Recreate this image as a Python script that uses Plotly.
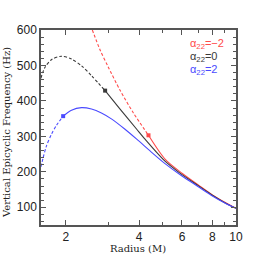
import plotly.graph_objects as go

# alpha22 = 0 (black)
r_blk_dash = [1.58, 1.64, 1.75, 1.92, 2.11, 2.32, 2.55, 2.90]
v_blk_dash = [464, 494, 517, 526, 518, 499, 471, 429]
r_blk_sol = [2.90, 3.34, 3.91, 4.23, 5.11, 6.0, 7.0, 8.0, 9.0, 10.0]
v_blk_sol = [429, 377, 320, 292, 230, 192, 161, 134, 113, 97]

# alpha22 = -2 (red)
r_red_dash = [2.57, 2.76, 2.98, 3.34, 3.79, 4.37]
v_red_dash = [600, 545, 497, 430, 366, 303]
r_red_sol = [4.37, 5.11, 6.0, 7.0, 8.0, 9.0, 10.0]
v_red_sol = [303, 236, 196, 163, 135, 114, 97]

# alpha22 = 2 (blue)
r_blu_dash = [1.58, 1.614, 1.665, 1.746, 1.83, 1.95]
v_blu_dash = [214, 240, 273, 306, 331, 357]
r_blu_sol = [1.95, 2.11, 2.32, 2.55, 2.80, 3.10, 3.50, 3.91, 4.50, 5.11, 6.0, 7.0, 8.0, 9.0, 10.0]
v_blu_sol = [357, 374, 381, 377, 366, 348, 320, 292, 255, 223, 188, 158, 132, 112, 97]

# transition markers
mark_r = [2.90, 4.37, 1.95]
mark_v = [429, 303, 357]

C_BLK = "#3a3a3a"
C_RED = "#ff4a4a"
C_BLU = "#4a4aff"

x_ticks = [2, 4, 6, 8, 10]
x_minor = [3, 5, 7, 9]
y_ticks = [100, 200, 300, 400, 500, 600]

legend_labels = ["α<sub>22</sub>=−2", "α<sub>22</sub>=0", "α<sub>22</sub>=2"]
legend_colors = [C_RED, C_BLK, C_BLU]

fig = go.Figure()

def add(r, v, color, dash):
    fig.add_trace(go.Scatter(x=r, y=v, mode="lines",
                             line=dict(color=color, width=1.1, dash=dash, shape="spline", smoothing=0.8),
                             showlegend=False, hoverinfo="skip"))

add(r_blk_dash, v_blk_dash, C_BLK, "3px,2px")
add(r_red_dash, v_red_dash, C_RED, "3px,2px")
add(r_blu_dash, v_blu_dash, C_BLU, "3px,2px")
add(r_red_sol, v_red_sol, C_RED, "solid")
add(r_blk_sol, v_blk_sol, C_BLK, "solid")
add(r_blu_sol, v_blu_sol, C_BLU, "solid")

fig.add_trace(go.Scatter(x=mark_r, y=mark_v, mode="markers",
                         marker=dict(symbol="square", size=4, color=[C_BLK, C_RED, C_BLU]),
                         showlegend=False, hoverinfo="skip"))

axis_common = dict(showline=True, linecolor="#555555", linewidth=1.5, mirror="allticks",
                   ticks="inside", ticklen=5, tickwidth=1, tickcolor="#555555",
                   showgrid=False, zeroline=False, automargin=False,
                   tickfont=dict(family="Liberation Sans, Arial, sans-serif", size=12, color="#222222"))

fig.update_xaxes(type="log", range=[0.199, 1.0], tickmode="array", tickvals=x_ticks,
                 ticktext=[str(t) for t in x_ticks],
                 minor=dict(tickmode="array", tickvals=x_minor, ticks="inside", ticklen=3, tickcolor="#555555"),
                 **axis_common)
fig.update_yaxes(range=[50, 600], tickmode="array", tickvals=y_ticks,
                 minor=dict(dtick=20, tick0=0, ticks="inside", ticklen=3, tickcolor="#555555"),
                 **axis_common)

annotations = []
ys = [0.928, 0.862, 0.795]
for lab, col, yy in zip(legend_labels, legend_colors, ys):
    annotations.append(dict(text=lab, x=0.754, y=yy, xref="paper", yref="paper", xanchor="left", yanchor="middle",
                            showarrow=False, font=dict(family="Liberation Sans, Arial, sans-serif", size=11, color=col)))
annotations.append(dict(text="Radius (M)", x=0.497, y=-0.123, xref="paper", yref="paper", xanchor="center",
                        yanchor="middle", showarrow=False,
                        font=dict(family="DejaVu Serif, serif", size=10, color="#222222")))
annotations.append(dict(text="Vertical Epicyclic Frequency (Hz)", x=-0.174, y=0.472, xref="paper", yref="paper",
                        xanchor="center", yanchor="middle", textangle=-90, showarrow=False,
                        font=dict(family="DejaVu Serif, serif", size=10, color="#222222")))

fig.update_layout(width=266, height=266, margin=dict(l=41, r=30, t=30, b=41, autoexpand=False),
                  paper_bgcolor="white", plot_bgcolor="white", annotations=annotations)

# remove the page's default body margin so the figure starts at the window corner
fig.write_html("out.html", config={"displayModeBar": False},
               post_script="document.body.style.margin='0';document.body.style.padding='0';")
